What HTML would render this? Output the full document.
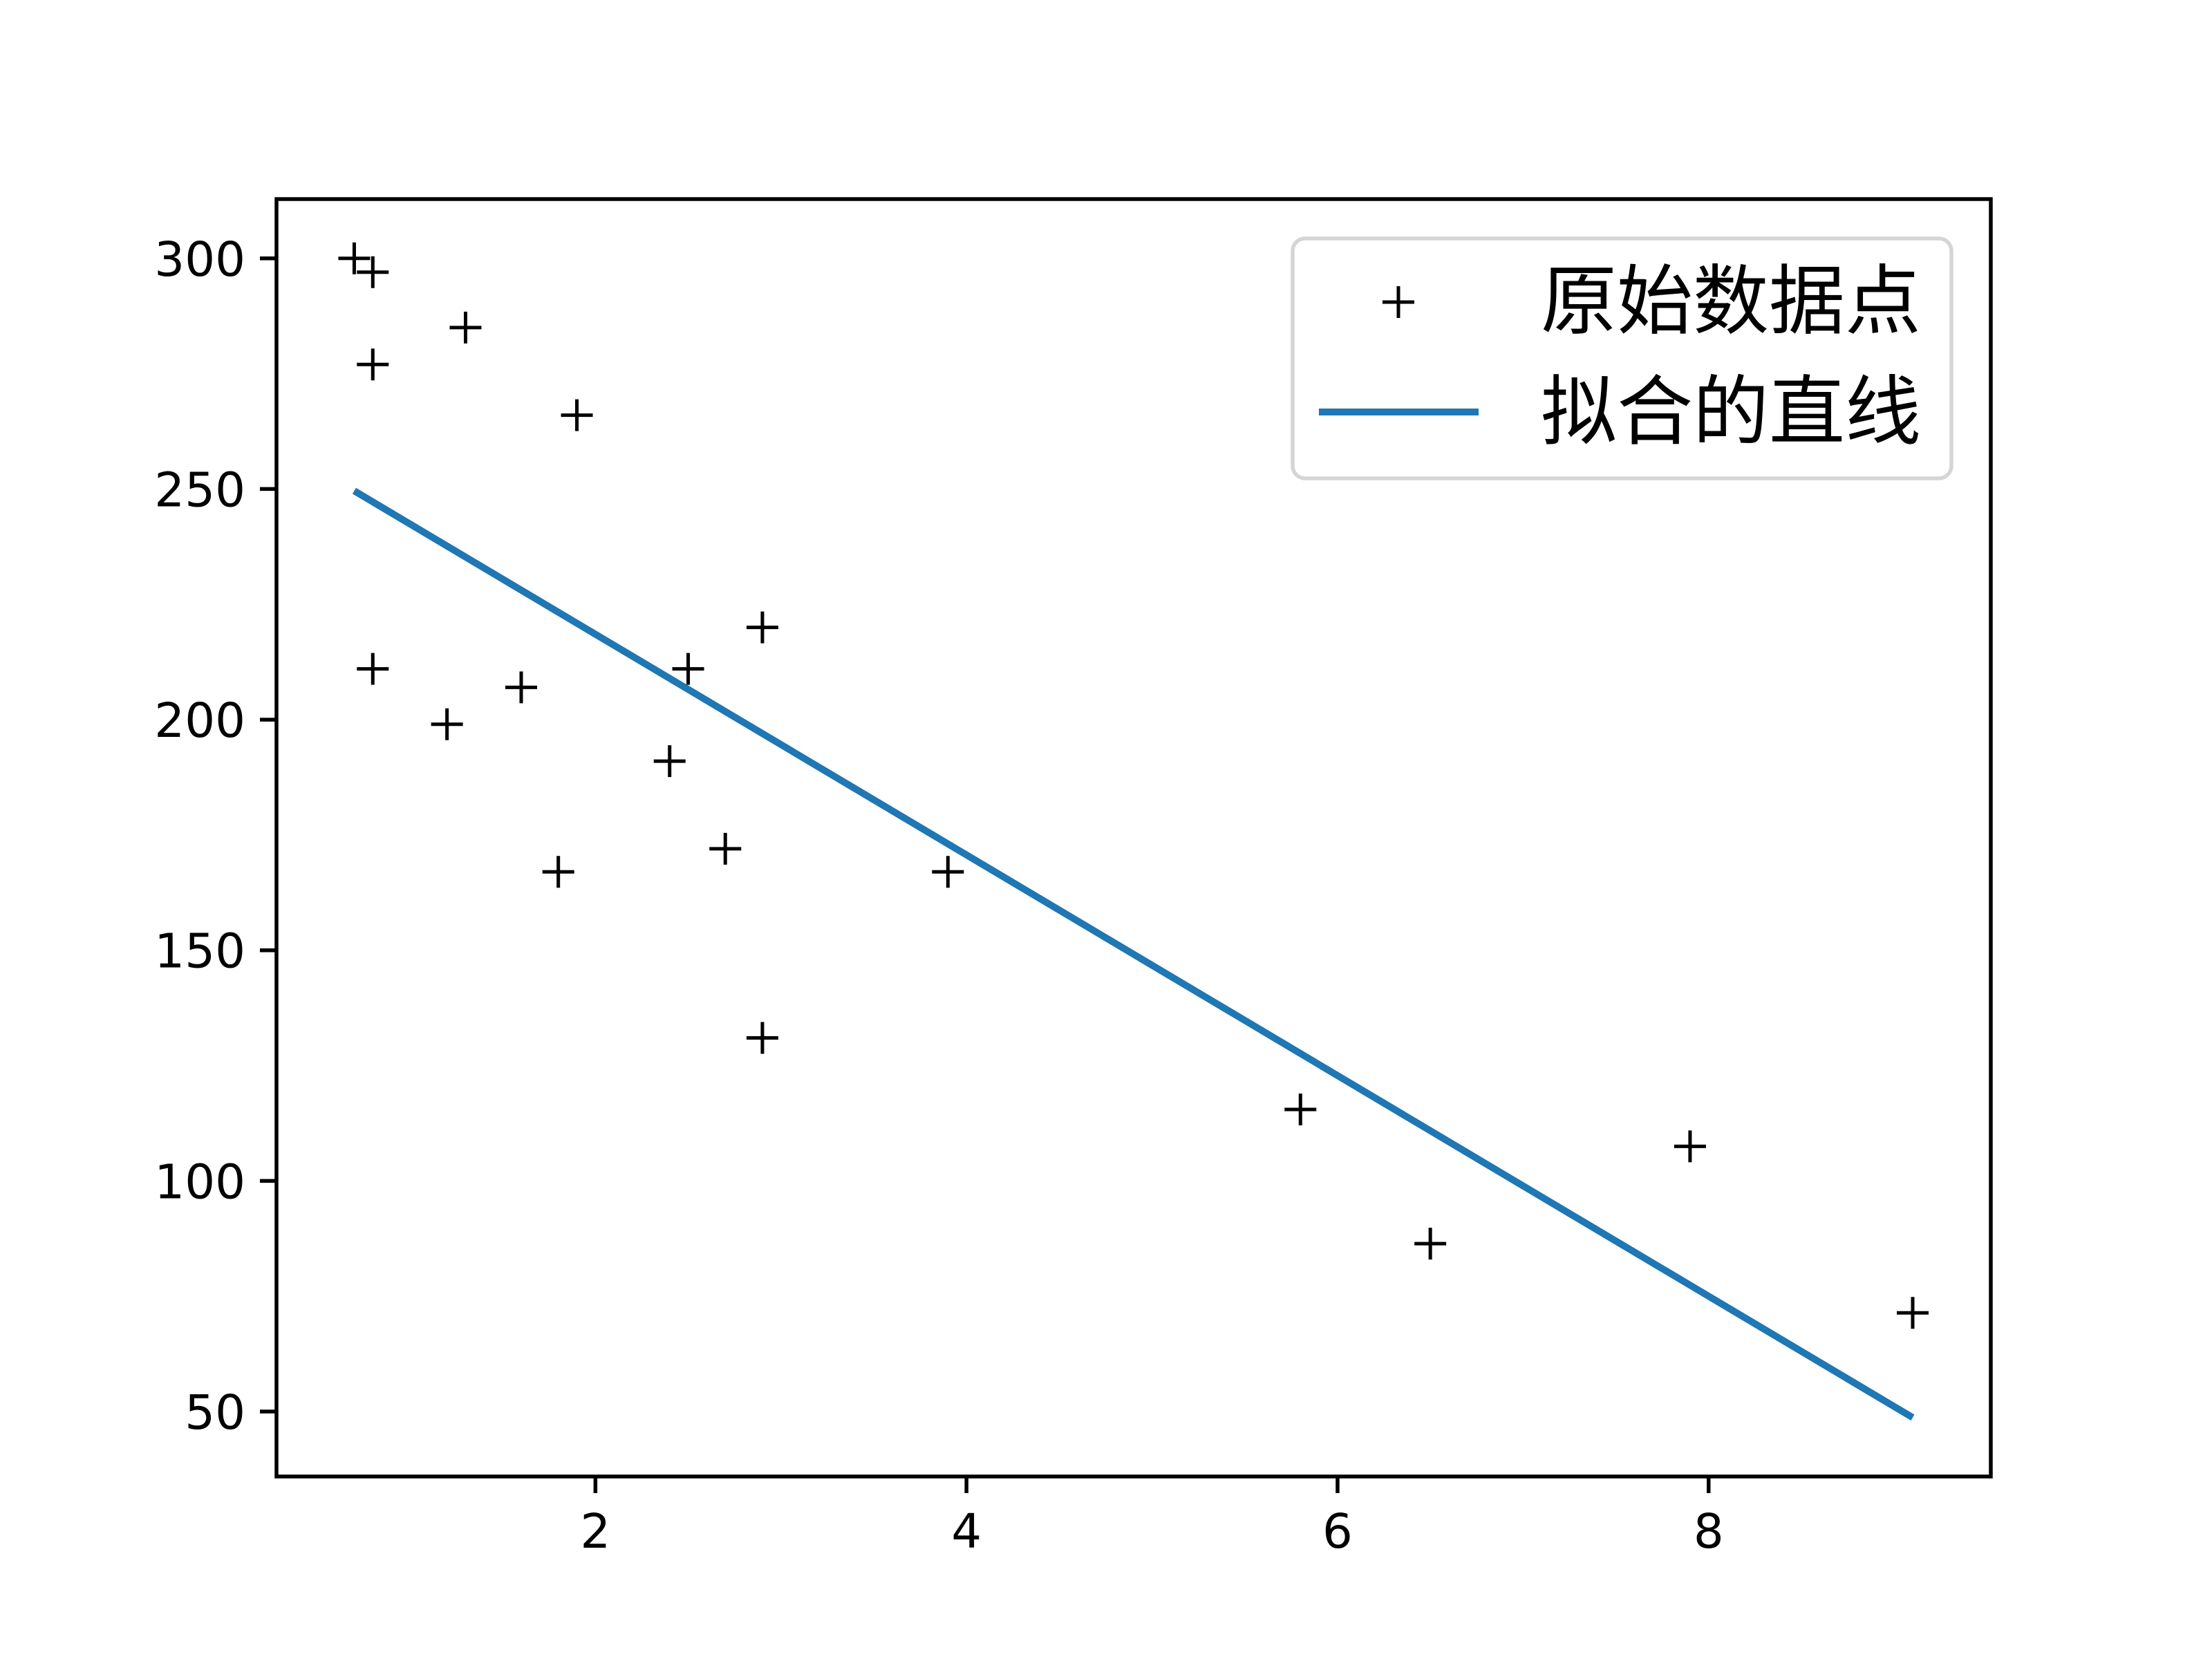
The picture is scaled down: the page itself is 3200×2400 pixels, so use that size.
<!DOCTYPE html>
<html><head><meta charset="utf-8"><style>
html,body{margin:0;padding:0;background:#fff;}
svg{display:block;}
text{font-family:"DejaVu Sans","Liberation Sans",sans-serif;}
</style></head><body>
<svg id="chart" width="3200" height="2400" viewBox="0 0 3200 2400" xmlns="http://www.w3.org/2000/svg">
<rect x="0" y="0" width="3200" height="2400" fill="#fff"/>
<g id="marks"></g>
<g id="axes"></g>
<g id="legend">
  <rect x="1870" y="345" width="953" height="347" rx="18" fill="#fff" fill-opacity="0.8" stroke="#d5d5d5" stroke-width="5.5"/>
  <g stroke="#000" stroke-width="5">
    <line x1="2000" y1="437" x2="2046" y2="437"/><line x1="2023" y1="414" x2="2023" y2="460"/>
  </g>
  <text x="2229" y="474" font-size="110" font-family="'Liberation Sans','Noto Sans CJK SC',sans-serif">原始数据点</text>
  <line x1="1908" y1="596" x2="2139" y2="596" stroke="#1f77b4" stroke-width="10"/>
  <text x="2229" y="634" font-size="110" font-family="'Liberation Sans','Noto Sans CJK SC',sans-serif">拟合的直线</text>
</g>
</svg>
<script>
const xValues = [0.7,0.8,0.8,1.3,1.9,0.8,1.2,1.6,1.8,2.4,2.5,2.7,2.9,2.9,3.9,5.8,6.5,7.9,9.1];
const yValues = [300,297,277,285,266,211,199,207,167,191,211,172,220,131,167,115.5,86.4,107.5,71.4];
const fitX = [0.7, 9.1];
const fitY = [249.6, 48.7];
const xTicks = [2,4,6,8];
const yTicks = [50,100,150,200,250,300];

const L=400,R=2880,T=288,B=2136;
const xMin=0.281,xMax=9.521,yMin=35.92,yMax=312.85;
function sx(v){return L+(v-xMin)/(xMax-xMin)*(R-L);}
function sy(v){return B-(v-yMin)/(yMax-yMin)*(B-T);}
const NS='http://www.w3.org/2000/svg';
function mk(tag,attrs,parent){const e=document.createElementNS(NS,tag);for(const k in attrs)e.setAttribute(k,attrs[k]);parent.appendChild(e);return e;}
const marks=document.getElementById('marks');
const axes=document.getElementById('axes');

const fl=mk('polyline',{points:fitX.map((x,i)=>sx(x)+','+sy(fitY[i])).join(' '),fill:'none',stroke:'#1f77b4','stroke-width':10},marks);



xValues.forEach((x,i)=>{
  const cx=sx(x),cy=sy(yValues[i]);
  const g=mk('g',{stroke:'#000','stroke-width':5},marks);
  
  
  mk('line',{x1:cx-23,y1:cy,x2:cx+23,y2:cy},g);
  mk('line',{x1:cx,y1:cy-23,x2:cx,y2:cy+23},g);
});

const frame=mk('rect',{x:L,y:T,width:R-L,height:B-T,fill:'none',stroke:'#000','stroke-width':5.5},axes);



xTicks.forEach(v=>{
  const x=sx(v);
  const t=mk('line',{x1:x,y1:B,x2:x,y2:B+24,stroke:'#000','stroke-width':5.5},axes);
  
  
  const l=mk('text',{x:x,y:B+103,'font-size':69,'text-anchor':'middle'},axes);
  l.textContent=v;
  
  
});
yTicks.forEach(v=>{
  const y=sy(v);
  const t=mk('line',{x1:L-24,y1:y,x2:L,y2:y,stroke:'#000','stroke-width':5.5},axes);
  
  
  const l=mk('text',{x:L-45,y:y+25,'font-size':69,'text-anchor':'end'},axes);
  l.textContent=v;
  
  
});
</script>
</body></html>
